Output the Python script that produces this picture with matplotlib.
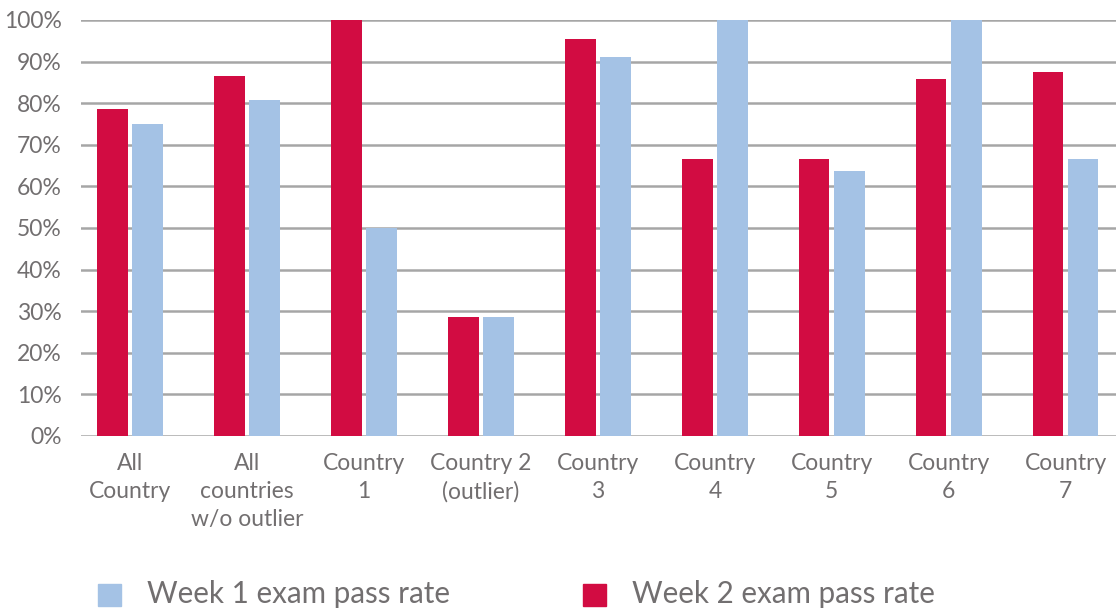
import numpy as np
import matplotlib.pyplot as plt
from matplotlib.patches import Rectangle

plt.rcParams['font.family'] = ['Lato', 'DejaVu Sans']

# data (percent)
categories = ['All\nCountry', 'All\ncountries\nw/o outlier', 'Country\n1',
              'Country 2\n(outlier)', 'Country\n3', 'Country\n4',
              'Country\n5', 'Country\n6', 'Country\n7']
week2 = [78.5, 86.5, 100, 28.6, 95.5, 66.7, 66.7, 85.7, 87.5]
week1 = [75.0, 80.7, 50.0, 28.6, 91.0, 100, 63.6, 100, 66.7]
yticks = [0, 10, 20, 30, 40, 50, 60, 70, 80, 90, 100]
legend_labels = ['Week 1 exam pass rate', 'Week 2 exam pass rate']

red = '#d20c42'
blue = '#a4c2e5'
txt = '#726f70'
grid = '#a6a6a6'

W, H = 1116, 611
fig = plt.figure(figsize=(W / 100, H / 100), dpi=100)
ax = fig.add_axes([81 / W, 1 - 436 / H, 1 - 81 / W, 416 / H])

x = np.arange(len(categories))
w = 0.26
ax.bar(x - 0.15, week2, w, color=red, zorder=3)
ax.bar(x + 0.15, week1, w, color=blue, zorder=3)

ax.set_xlim(-0.42, 8.43)
ax.set_ylim(0, 100)
ax.set_yticks(yticks)
ax.set_yticklabels([f'{t}%' for t in yticks], fontsize=16.5, color=txt)
ax.set_xticks(x)
ax.set_xticklabels(categories, fontsize=16.5, color=txt, linespacing=1.42)
ax.tick_params(axis='both', length=0)
ax.tick_params(axis='y', pad=14)
ax.tick_params(axis='x', pad=12)
ax.yaxis.grid(True, color=grid, linewidth=1.8, zorder=0)
for s in ax.spines.values():
    s.set_visible(False)

# legend drawn by hand to match spacing
for (px, tx), col, lab in zip([(98, 147), (583, 632)], [blue, red], legend_labels):
    fig.patches.append(Rectangle((px / W, 1 - 606 / H), 23 / W, 22 / H,
                                 transform=fig.transFigure, color=col))
    fig.text(tx / W, 1 - 594 / H, lab, fontsize=21.3, color=txt, va='center')

fig.savefig('out.png', dpi=100)
